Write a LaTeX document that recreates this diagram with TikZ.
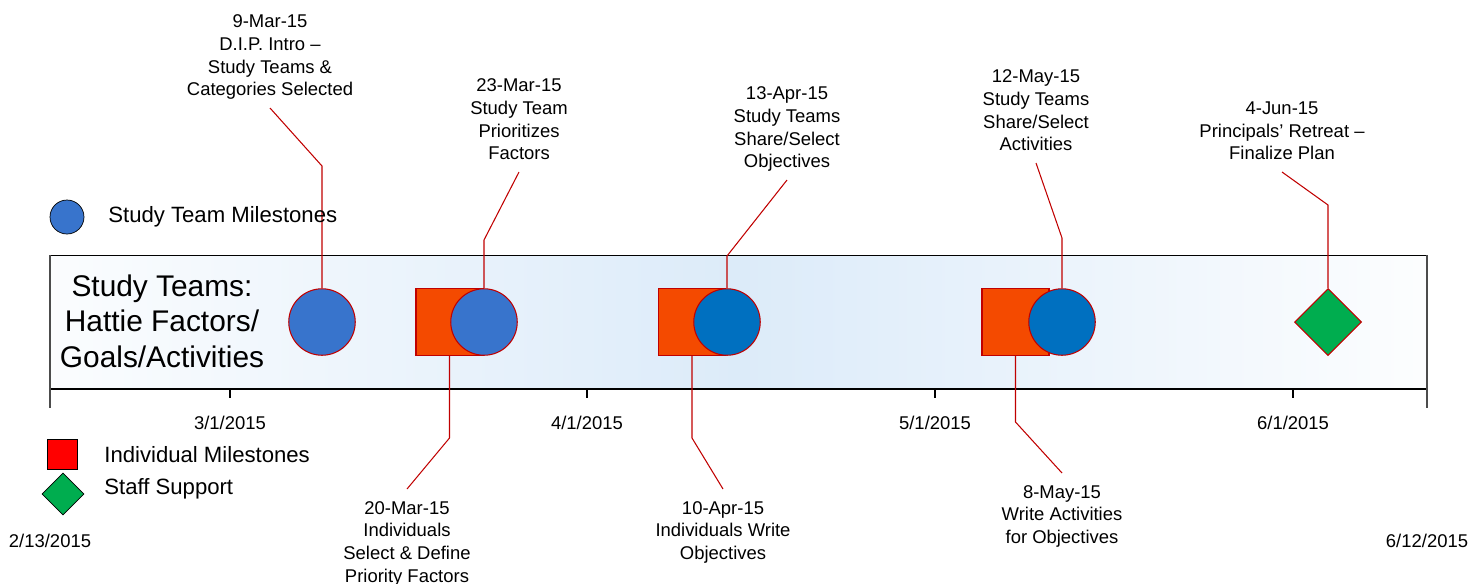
\documentclass[tikz,border=0pt]{standalone}
\usepackage{fontspec}
\setmainfont{Liberation Sans}
\usetikzlibrary{shapes.geometric}

\definecolor{teamblue}{RGB}{56,116,204}
\definecolor{teamdark}{RGB}{0,112,192}
\definecolor{indivorange}{RGB}{244,74,0}
\definecolor{linkred}{RGB}{192,0,0}
\definecolor{supportgreen}{RGB}{0,173,79}
\definecolor{bandblue}{RGB}{220,235,249}

\tikzset{
  milestone/.style={circle, draw=linkred, line width=0.6pt, minimum size=1.33cm, inner sep=0pt},
  indiv/.style={rectangle, draw=linkred, fill=indivorange, line width=0.6pt, minimum size=1.34cm, inner sep=0pt},
  support/.style={diamond, draw=linkred, fill=supportgreen, line width=0.6pt, minimum size=1.34cm, inner sep=0pt},
  note/.style={align=center, font=\fontsize{10.5}{12.9}\selectfont, inner xsep=0pt, inner ysep=6.8pt, text depth=0pt},
  datelabel/.style={font=\fontsize{10.5}{12.9}\selectfont, inner sep=0pt},
  legendtext/.style={font=\fontsize{12.6}{15}\selectfont, anchor=west, inner sep=0pt},
  link/.style={draw=linkred, line width=0.6pt},
}

\begin{document}
\begin{tikzpicture}[x=0.02cm, y=-0.02cm]
  \useasboundingbox (0,0) rectangle (1469,583);

  % Band behind the milestones
  \shade[left color=bandblue!12, right color=bandblue!8, middle color=bandblue] (50,255) rectangle (1427,389);
  \draw[line width=0.5pt] (50,255) -- (1427,255);
  \draw[gray!60, line width=0.5pt] (50,388) -- (1427,388);
  \draw[line width=0.7pt] (50,389) -- (1427,389);
  \draw[black!70, line width=1.1pt] (50,255) -- (50,408);
  \draw[black!70, line width=1.1pt] (1427,255) -- (1427,408);

  \node[align=center, font=\fontsize{17}{20.1}\selectfont, inner sep=0pt] (title) at (162,321)
    {Study Teams:\\Hattie Factors/\\Goals/Activities};

  % Month ticks and dates
  \foreach \x/\m in {230/3, 587/4, 935/5, 1293/6} {
    \draw[line width=0.6pt] (\x,389) -- (\x,398);
    \node[datelabel] (m\m) at (\x,423) {\m/1/2015};
  }
  \node[datelabel] (start) at (50,541) {2/13/2015};
  \node[datelabel] (end) at (1427,541) {6/12/2015};

  % Individual milestones (squares go under the circles)
  \node[indiv] (s1) at (449.5,322) {};
  \node[indiv] (s2) at (692,322) {};
  \node[indiv] (s3) at (1015.5,322) {};

  % Study team milestones
  \node[milestone, fill=teamblue] (c1) at (322,322) {};
  \node[milestone, fill=teamblue] (c2) at (484,322) {};
  \node[milestone, fill=teamdark] (c3) at (727,322) {};
  \node[milestone, fill=teamdark] (c4) at (1062,322) {};

  % Staff support
  \node[support] (d1) at (1328,322) {};

  % Notes above the band
  \node[note, anchor=south] (t1) at (270,108) {9-Mar-15\\D.I.P. Intro –\\Study Teams \&\\Categories Selected};
  \node[note, anchor=south] (t2) at (519,172) {23-Mar-15\\Study Team\\Prioritizes\\Factors};
  \node[note, anchor=south] (t3) at (787,180) {13-Apr-15\\Study Teams\\Share/Select\\Objectives};
  \node[note, anchor=south] (t4) at (1036,163) {12-May-15\\Study Teams\\Share/Select\\Activities};
  \node[note, anchor=south] (t5) at (1282,172) {4-Jun-15\\Principals’ Retreat –\\Finalize Plan};

  % Notes below the band
  \node[note, anchor=north] (b1) at (407,489) {20-Mar-15\\Individuals\\Select \& Define\\Priority Factors};
  \node[note, anchor=north] (b2) at (723,489) {10-Apr-15\\Individuals Write\\Objectives};
  \node[note, anchor=north] (b3) at (1062,473) {8-May-15\\Write Activities\\for Objectives};

  % Bends of the leader lines
  \coordinate (k1) at (322,166);
  \coordinate (k2) at (484,240);
  \coordinate (k3) at (727,256);
  \coordinate (k4) at (1062,238);
  \coordinate (k5) at (1328,205);
  \coordinate (j1) at (449.5,438);
  \coordinate (j2) at (692,438);
  \coordinate (j3) at (1015.5,422);

  \draw[link] (c1.north) -- (k1) -- (t1.south);
  \draw[link] (c2.north) -- (k2) -- (t2.south);
  \draw[link] (c3.north) -- (k3) -- (t3.south);
  \draw[link] (c4.north) -- (k4) -- (t4.south);
  \draw[link] (d1.north) -- (k5) -- (t5.south);
  \draw[link] (s1.south) -- (j1) -- (b1.north);
  \draw[link] (s2.south) -- (j2) -- (b2.north);
  \draw[link] (s3.south) -- (j3) -- (b3.north);

  % Legend
  \node[circle, draw, fill=teamblue, minimum size=0.68cm, inner sep=0pt] (lc) at (67,217) {};
  \node[legendtext] (lct) at (108,217) {Study Team Milestones};
  \node[rectangle, draw, fill=red, minimum size=0.6cm, inner sep=0pt] (ls) at (62.7,454) {};
  \node[legendtext] (lst) at (104,455) {Individual Milestones};
  \node[diamond, draw, fill=supportgreen, minimum size=0.84cm, inner sep=0pt] (ld) at (63,494) {};
  \node[legendtext] (ldt) at (104,489) {Staff Support};
\end{tikzpicture}
\end{document}
